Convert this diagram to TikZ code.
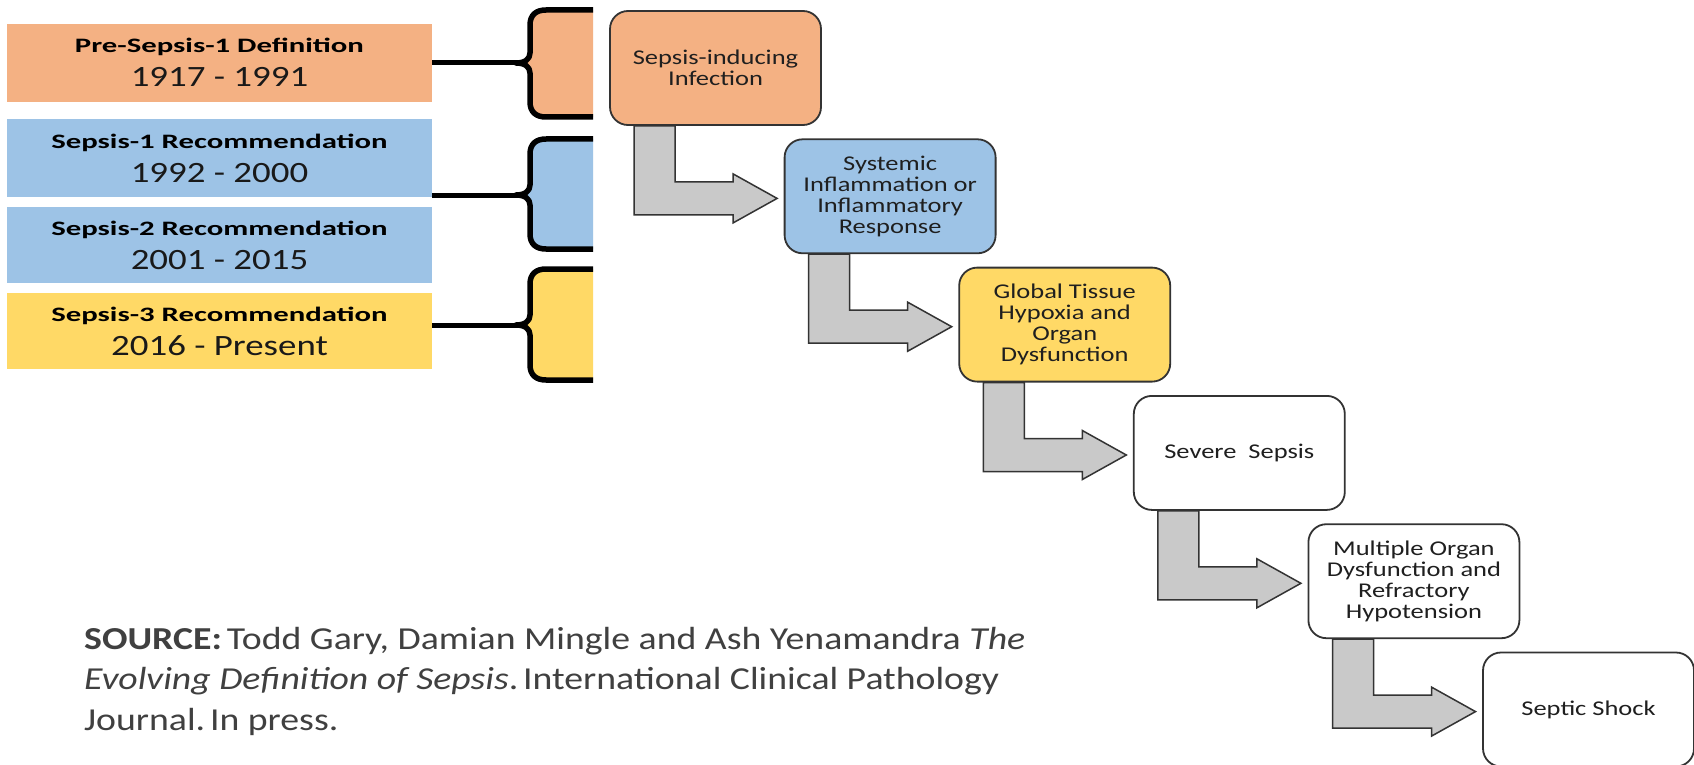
\documentclass[tikz,border=0pt]{standalone}
\usepackage{fontspec}
\setmainfont{Carlito}
\newfontfamily\flowfont[FakeStretch=1.26]{Carlito}
\newfontfamily\titlefont[FakeStretch=1.5]{Carlito}
\newfontfamily\yearfont[FakeStretch=1.25]{Carlito}
\newfontfamily\srcfont[FakeStretch=1.18]{Carlito}
\usetikzlibrary{calc,backgrounds}
\definecolor{cOrange}{HTML}{F4B183}
\definecolor{cBlue}{HTML}{9DC3E6}
\definecolor{cYellow}{HTML}{FFD966}
\definecolor{cArrow}{HTML}{C9C9C9}
\definecolor{cEdge}{HTML}{333333}
\definecolor{cSrc}{HTML}{404040}
\newcommand\drawbrace[4]{%
  \fill[#1] (593,#2) -- (546,#2) .. controls (536,#2) and (530,{#2+5}) .. (530,{#2+15})
    -- (530,{#3-10}) .. controls (530,{#3-4}) and (525,#3) .. (516,#3)
    .. controls (525,#3) and (530,{#3+4}) .. (530,{#3+10})
    -- (530,{#4-15}) .. controls (530,{#4-5}) and (536,#4) .. (546,#4) -- (593,#4) -- cycle;
  \draw[bracestroke] (593,#2) -- (546,#2) .. controls (536,#2) and (530,{#2+5}) .. (530,{#2+15})
    -- (530,{#3-10}) .. controls (530,{#3-4}) and (525,#3) .. (516,#3)
    .. controls (525,#3) and (530,{#3+4}) .. (530,{#3+10})
    -- (530,{#4-15}) .. controls (530,{#4-5}) and (536,#4) .. (546,#4) -- (593,#4);
}
\begin{document}
\begin{tikzpicture}[x=1pt,y=-1pt,
  leftbox/.style={rectangle, minimum width=425pt, minimum height=78pt, inner sep=0pt, draw=none},
  titletext/.style={anchor=base, inner sep=0pt, font=\titlefont\bfseries\fontsize{20.5}{22}\selectfont, text=black},
  yeartext/.style={anchor=base, inner sep=0pt, font=\yearfont\fontsize{29.5}{30}\selectfont, text=black!90},
  flowbox/.style={rectangle, rounded corners=18pt, draw=cEdge, line width=1.8pt,
    minimum width=211pt, minimum height=114pt, inner sep=0pt, align=center,
    font=\flowfont\fontsize{21}{21}\selectfont, text=black!88},
  blockarrow/.style={fill=cArrow, draw=cEdge, line width=1.5pt, line join=miter},
  bracestroke/.style={draw=black, line width=5.5pt, line join=round},
  joinline/.style={draw=black, line width=5pt},
  srctext/.style={anchor=base west, inner sep=0pt, font=\srcfont\fontsize{32}{40}\selectfont, text=cSrc}]
\useasboundingbox (0,0) rectangle (1694,765);

% left legend boxes
\node[leftbox, fill=cOrange] (lb1) at (219.5,63) {};
\node[leftbox, fill=cBlue] (lb2) at (219.5,158) {};
\node[leftbox, fill=cBlue, minimum height=76pt] (lb3) at (219.5,245) {};
\node[leftbox, fill=cYellow, minimum height=76pt] (lb4) at (219.5,331) {};
\node[titletext] (t1) at ($(lb1.center)+(0,-10)$) {Pre-Sepsis-1 Definition};
\node[yeartext] (y1) at ($(lb1.center)+(0,24)$) {1917 - 1991};
\node[titletext] (t2) at ($(lb2.center)+(0,-10)$) {Sepsis-1 Recommendation};
\node[yeartext] (y2) at ($(lb2.center)+(0,24)$) {1992 - 2000};
\node[titletext] (t3) at ($(lb3.center)+(0,-10)$) {Sepsis-2 Recommendation};
\node[yeartext] (y3) at ($(lb3.center)+(0,24)$) {2001 - 2015};
\node[titletext] (t4) at ($(lb4.center)+(0,-10)$) {Sepsis-3 Recommendation};
\node[yeartext] (y4) at ($(lb4.center)+(0,24)$) {2016 - Present};

% braces
\coordinate (tip1) at (517,63);
\coordinate (tip2) at (517,195);
\coordinate (tip3) at (517,325);
\drawbrace{cOrange}{10}{63}{117}
\drawbrace{cBlue}{139}{195}{249}
\drawbrace{cYellow}{269}{325}{380}
\draw[joinline] (lb1.east) -- (tip1);
\draw[joinline] (lb2.east |- tip2) -- (tip2);
\draw[joinline] (lb4.east |- tip3) -- (tip3);

% flow boxes
\node[flowbox, fill=cOrange] (b1) at (715.5,68) {Sepsis-inducing\\Infection};
\node[flowbox, fill=cBlue] (b2) at (890.1,196.3) {Systemic\\Inflammation or\\Inflammatory\\Response};
\node[flowbox, fill=cYellow] (b3) at (1064.7,324.6) {Global Tissue\\Hypoxia and\\Organ\\Dysfunction};
\node[flowbox, fill=white] (b4) at (1239.3,452.9) {Severe\ \ Sepsis};
\node[flowbox, fill=white] (b5) at (1413.9,581.2) {Multiple Organ\\Dysfunction and\\Refractory\\Hypotension};
\node[flowbox, fill=white] (b6) at (1588.5,709.5) {Septic Shock};

% bent block arrows
\begin{scope}[on background layer]
\fill[white] (0,0) rectangle (1694,765);
\foreach \i in {1,...,5}{
  \draw[blockarrow] ($(b\i.south west)+(25,0)$) -- ++(0,89) -- ++(99,0) -- ++(0,8)
    -- ++(44,-24.5) -- ++(-44,-24.5) -- ++(0,8) -- ++(-58,0) -- ++(0,-56) -- cycle;
}
\end{scope}

% source
\node[srctext] (src1) at (84,649) {\textbf{SOURCE:}\hspace{0.15em}Todd Gary, Damian Mingle and Ash Yenamandra \textit{The}};
\node[srctext] (src2) at (84,689.5) {\textit{Evolving Definition of Sepsis}.\hspace{0.15em}International Clinical Pathology};
\node[srctext] (src3) at (84,730) {Journal.\hspace{0.15em}In press.};
\end{tikzpicture}
\end{document}
